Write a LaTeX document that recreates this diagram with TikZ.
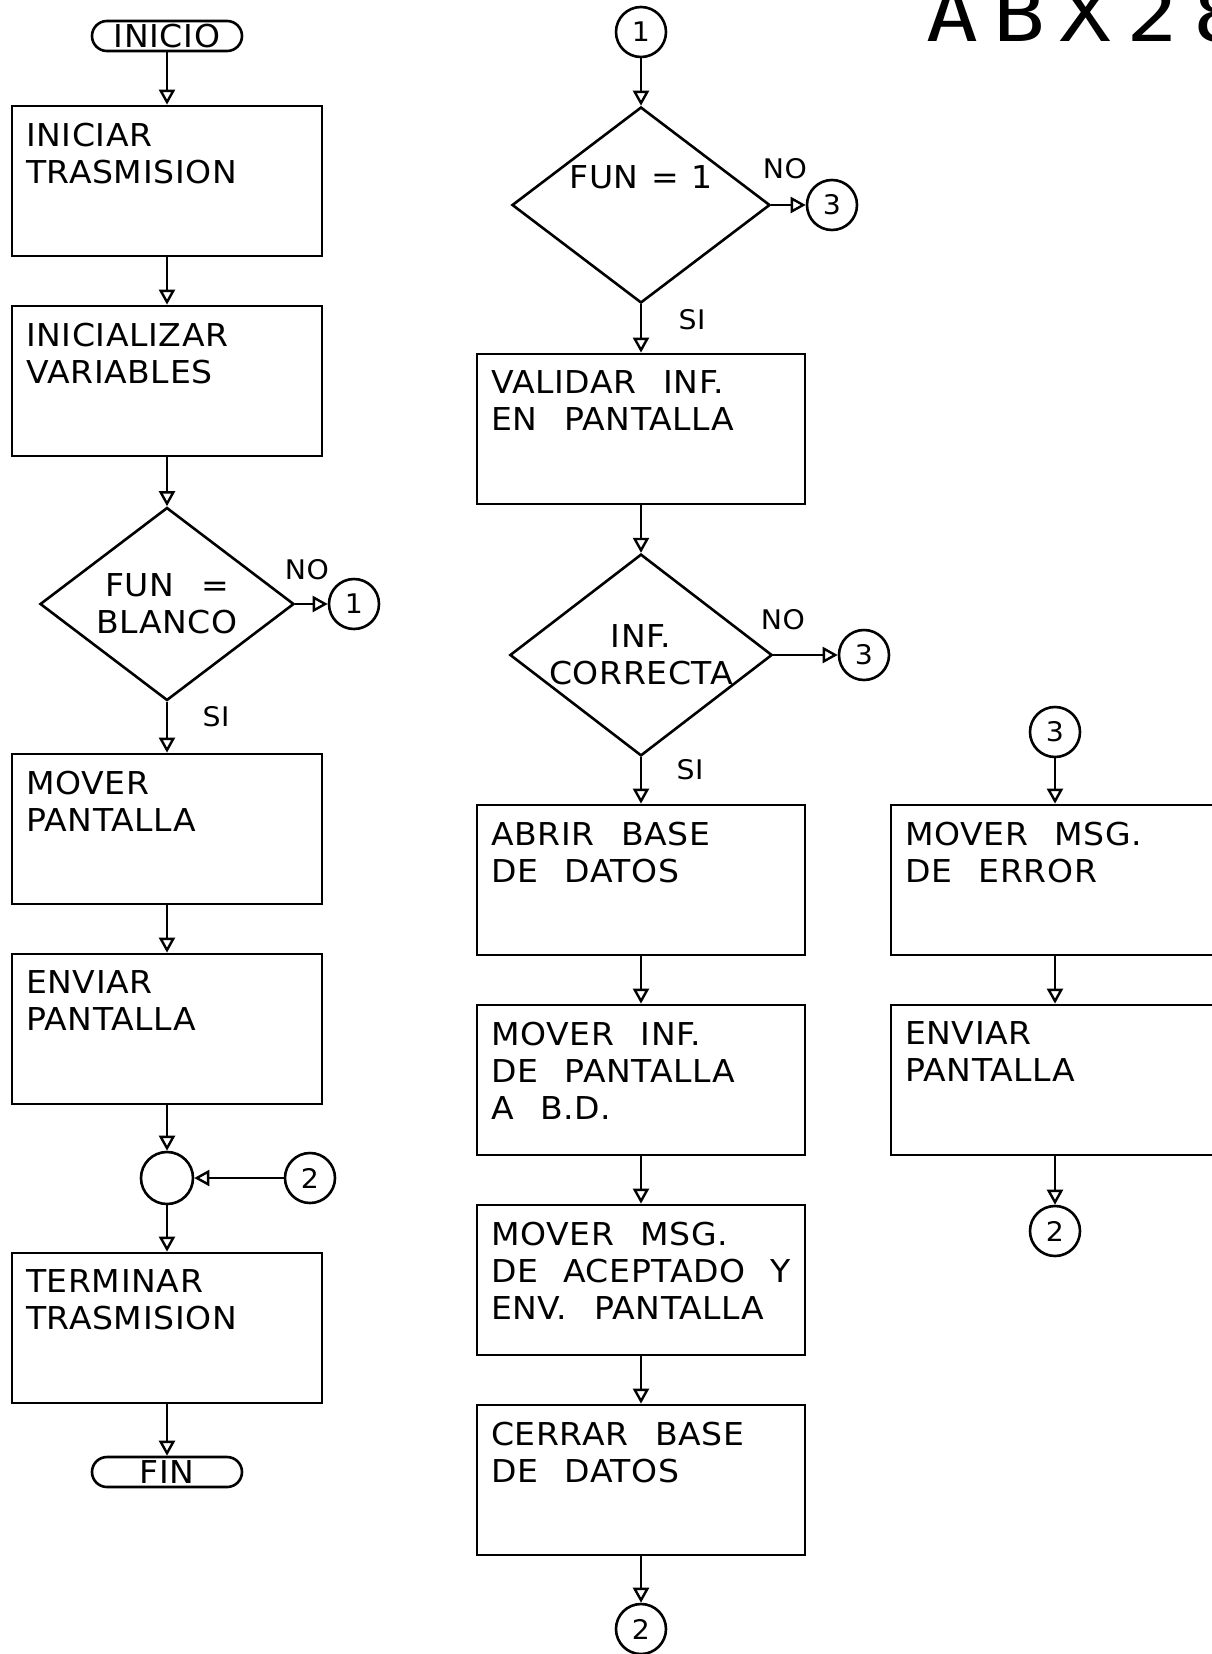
\documentclass[tikz,border=0pt]{standalone}
\usepackage{fontspec}
\setmainfont{DejaVu Sans}[FakeStretch=1.05, WordSpace=2.4, LetterSpace=2]
\newfontfamily\titlefont{DejaVu Sans Mono}[FakeStretch=1.15, LetterSpace=20]
\usepackage{tikz}
\usetikzlibrary{arrows.meta, shapes.geometric}

\newcommand{\steptext}[2]{\parbox[c][116pt][t]{#1}{\raggedright #2}}
\newcommand{\tightspace}{\spaceskip=0.4em\relax}

\begin{document}
\begin{tikzpicture}[
			x=1pt, y=-1pt,
			node distance=200pt,
			every node/.style={font=\fontsize{31.5pt}{37pt}\selectfont},
			stepbox/.style={draw, rectangle, line width=2.8pt, inner sep=0pt, minimum width=#1, minimum height=150pt},
			stepbox/.default=310pt,
			termbox/.style={draw, rectangle, rounded corners=15pt, line width=2.6pt, minimum width=150pt, minimum height=30pt, inner sep=0pt},
			testbox/.style={draw, diamond, aspect=1.3, line width=2.6pt, inner sep=0pt, align=center},
			linkcirc/.style={draw, circle, line width=2.6pt, minimum size=50pt, inner sep=0pt, font=\fontsize{27pt}{30pt}\selectfont},
			answer/.style={font=\fontsize{27pt}{30pt}\selectfont},
			arrow/.style={-{Triangle[open, length=15pt, width=16pt]}, line width=2.4pt}
			]
			\useasboundingbox (0,0) rectangle (1212,1654);
			
			% -------- Left column --------
			\node[termbox] (s0) at (167,36) {INICIO};
			\node[stepbox, node distance=145pt, below of=s0] (b1) {\steptext{282pt}{INICIAR\\TRASMISION}};
			\node[stepbox, below of=b1] (b2) {\steptext{282pt}{INICIALIZAR\\VARIABLES}};
			\node[testbox, minimum width=254pt, minimum height=193pt, node distance=223pt, below of=b2] (d1) {FUN =\\BLANCO};
			\node[stepbox, node distance=225pt, below of=d1] (b3) {\steptext{282pt}{MOVER\\PANTALLA}};
			\node[stepbox, below of=b3] (b4) {\steptext{282pt}{ENVIAR\\PANTALLA}};
			\node[linkcirc, minimum size=52pt, node distance=149pt, below of=b4] (j1) {};
			\node[stepbox, node distance=150pt, below of=j1] (b5) {\steptext{282pt}{TERMINAR\\TRASMISION}};
			\node[termbox, node distance=144pt, below of=b5] (e0) {FIN};
			\node[linkcirc, node distance=187pt, right of=d1] (c1) {1};
			\node[linkcirc, node distance=143pt, right of=j1] (c2) {2};
			\node[answer] (no1) at (307,570) {NO};
			\node[answer] (si1) at (216,717) {SI};
			
			\draw[arrow] (s0) -- (b1);
			\draw[arrow] (b1) -- (b2);
			\draw[arrow] (b2) -- (d1);
			\draw[arrow] (d1) -- (c1);
			\draw[arrow] (d1) -- (b3);
			\draw[arrow] (b3) -- (b4);
			\draw[arrow] (b4) -- (j1);
			\draw[arrow] (c2) -- (j1);
			\draw[arrow] (j1) -- (b5);
			\draw[arrow] (b5) -- (e0);
			
			% -------- Middle column --------
			\node[linkcirc] (c1m) at (641,32) {1};
			\node[testbox, minimum width=258pt, minimum height=196pt, node distance=173pt, below of=c1m,
				label={[name=d2t, yshift=28pt, font=\fontsize{31.5pt}{37pt}\selectfont\tightspace]center:FUN = 1}] (d2) {};
			\node[stepbox=328pt, node distance=224pt, below of=d2] (b6) {\steptext{300pt}{VALIDAR INF.\\EN PANTALLA}};
			\node[testbox, minimum width=260pt, minimum height=194pt, node distance=226pt, below of=b6] (d3) {INF.\\CORRECTA};
			\node[stepbox=328pt, node distance=225pt, below of=d3] (b7) {\steptext{300pt}{ABRIR BASE\\DE DATOS}};
			\node[stepbox=328pt, below of=b7] (b8) {\steptext{300pt}{MOVER INF.\\DE PANTALLA\\A B.D.}};
			\node[stepbox=328pt, below of=b8] (b9) {\steptext{300pt}{MOVER MSG.\\DE~ACEPTADO~Y\\ENV.~PANTALLA}};
			\node[stepbox=328pt, below of=b9] (b10) {\steptext{300pt}{CERRAR BASE\\DE DATOS}};
			\node[linkcirc, node distance=149pt, below of=b10] (c2m) {2};
			\node[linkcirc, node distance=191pt, right of=d2] (c3a) {3};
			\node[linkcirc, node distance=223pt, right of=d3] (c3b) {3};
			\node[answer] (no2) at (785,169) {NO};
			\node[answer] (si2) at (692,320) {SI};
			\node[answer] (no3) at (783,620) {NO};
			\node[answer] (si3) at (690,770) {SI};
			
			\draw[arrow] (c1m) -- (d2);
			\draw[arrow] (d2) -- (c3a);
			\draw[arrow] (d2) -- (b6);
			\draw[arrow] (b6) -- (d3);
			\draw[arrow] (d3) -- (c3b);
			\draw[arrow] (d3) -- (b7);
			\draw[arrow] (b7) -- (b8);
			\draw[arrow] (b8) -- (b9);
			\draw[arrow] (b9) -- (b10);
			\draw[arrow] (b10) -- (c2m);
			
			% -------- Right column --------
			\node[linkcirc] (c3r) at (1055,732) {3};
			\node[stepbox=328pt, node distance=148pt, below of=c3r] (b11) {\steptext{300pt}{MOVER MSG.\\DE ERROR}};
			\node[stepbox=328pt, below of=b11] (b12) {\steptext{300pt}{ENVIAR\\PANTALLA}};
			\node[linkcirc, node distance=151pt, below of=b12] (c2r) {2};
			
			\draw[arrow] (c3r) -- (b11);
			\draw[arrow] (b11) -- (b12);
			\draw[arrow] (b12) -- (c2r);
			
			% -------- Title --------
			\node[font=\titlefont\fontsize{75pt}{75pt}\selectfont, anchor=base west, inner sep=0pt] (t0) at (926,42) {ABX28};
			
	\end{tikzpicture}
\end{document}
